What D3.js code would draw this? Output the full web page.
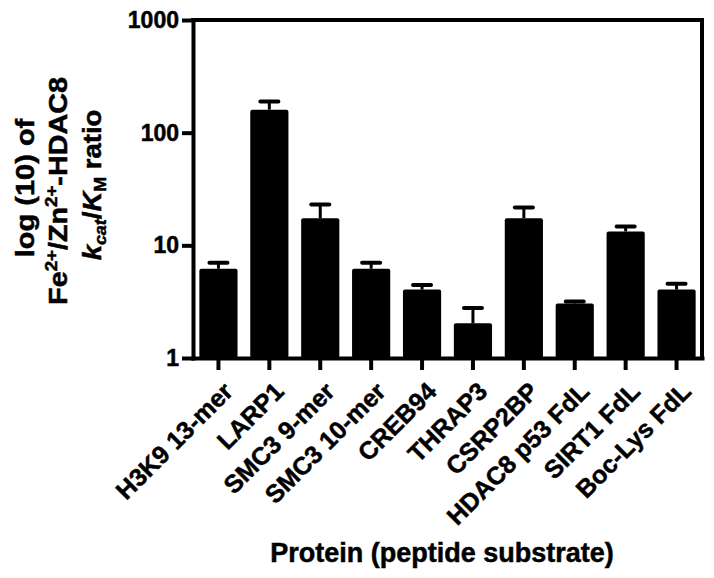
<!DOCTYPE html>
<html>
<head>
<meta charset="utf-8">
<script src="https://cdn.jsdelivr.net/npm/d3@7"></script>
<style>
  body { margin: 0; background: #fff; }
  text { font-family: "Liberation Sans", Arial, sans-serif; font-weight: bold;
         stroke: #000; stroke-width: 0.5px; }
</style>
</head>
<body>
<div id="main"></div>
<script>
const proteins = ["H3K9 13-mer", "LARP1", "SMC3 9-mer", "SMC3 10-mer", "CREB94",
  "THRAP3", "CSRP2BP", "HDAC8 p53 FdL", "SIRT1 FdL", "Boc-Lys FdL"];
// Fe/Zn kcat/KM ratio and upper error
const ratios = [6.2, 160, 17.4, 6.2, 4.05, 2.03, 17.4, 3.05, 13.3, 4.05];
const errors = [0.8, 29, 5.6, 0.8, 0.4, 0.75, 4.3, 0.12, 1.4, 0.5];
const yTicks = [1, 10, 100, 1000];

const width = 714, height = 578;
const plotLeft = 193, plotRight = 702, plotTop = 20, plotBottom = 358;

const svg = d3.select("#main").append("svg")
  .attr("width", width)
  .attr("height", height);

const x = d3.scaleBand()
  .domain(proteins)
  .range([plotLeft, plotRight])
  .paddingInner(0.25)
  .paddingOuter(0.125);

const y = d3.scaleLog()
  .domain([1, 1000])
  .range([plotBottom, plotTop]);

// bars
svg.append("g").selectAll("rect")
  .data(proteins)
  .join("rect")
  .attr("x", d => x(d))
  .attr("width", x.bandwidth())
  .attr("y", (d, i) => y(ratios[i]))
  .attr("height", (d, i) => plotBottom - y(ratios[i]))
  .attr("rx", 2)
  .attr("fill", "#000");

// error bars (upper only)
const err = svg.append("g").attr("stroke", "#000");
err.selectAll("line.stem")
  .data(proteins)
  .join("line")
  .attr("class", "stem")
  .attr("x1", d => x(d) + x.bandwidth() / 2)
  .attr("x2", d => x(d) + x.bandwidth() / 2)
  .attr("y1", (d, i) => y(ratios[i]))
  .attr("y2", (d, i) => y(ratios[i] + errors[i]))
  .attr("stroke-width", 3);
err.selectAll("line.cap")
  .data(proteins)
  .join("line")
  .attr("class", "cap")
  .attr("x1", d => x(d) + x.bandwidth() / 2 - 9)
  .attr("x2", d => x(d) + x.bandwidth() / 2 + 9)
  .attr("y1", (d, i) => y(ratios[i] + errors[i]))
  .attr("y2", (d, i) => y(ratios[i] + errors[i]))
  .attr("stroke-width", 4)
  .attr("stroke-linecap", "round");

// frame top + right
svg.append("path")
  .attr("d", `M${plotLeft},${plotTop}H${plotRight}V${plotBottom}`)
  .attr("fill", "none")
  .attr("stroke", "#000")
  .attr("stroke-width", 4)
  .attr("stroke-linecap", "square");

// y axis
const yAxis = svg.append("g")
  .attr("transform", `translate(${plotLeft},0)`)
  .call(d3.axisLeft(y).tickValues(yTicks).tickFormat(d3.format("d"))
    .tickSize(11).tickSizeOuter(0).tickPadding(3));
yAxis.selectAll("path, line").attr("stroke-width", 4);
yAxis.select(".domain").attr("stroke-linecap", "square");
yAxis.selectAll("text").attr("font-size", 23).attr("fill", "#000");

// x axis
const xAxis = svg.append("g")
  .attr("transform", `translate(0,${plotBottom})`)
  .call(d3.axisBottom(x).tickSize(12).tickSizeOuter(0));
xAxis.selectAll("path, line").attr("stroke-width", 4);
xAxis.select(".domain").attr("stroke-linecap", "square");
xAxis.selectAll("text")
  .attr("font-size", 25)
  .attr("fill", "#000")
  .attr("text-anchor", "end")
  .attr("x", 0).attr("y", 0).attr("dy", 0)
  .attr("transform", "translate(16,35) rotate(-45)");

// x title
svg.append("text")
  .attr("transform", "translate(442,562)")
  .attr("text-anchor", "middle")
  .attr("font-size", 27)
  .text("Protein (peptide substrate)");

// y title, three lines
const fs = 25, sub = 0.65;
const yl = svg.append("g").attr("font-size", fs);

yl.append("text")
  .attr("transform", "translate(34,188) rotate(-90) scale(1.16,1)")
  .attr("text-anchor", "middle")
  .text("log (10) of");

const l2 = yl.append("text")
  .attr("transform", "translate(67,191) rotate(-90) scale(1.15,1)")
  .attr("text-anchor", "middle");
l2.append("tspan").text("Fe");
l2.append("tspan").attr("font-size", fs * sub).attr("dy", -10).text("2+");
l2.append("tspan").attr("dy", 10).text("/Zn");
l2.append("tspan").attr("font-size", fs * sub).attr("dy", -10).text("2+");
l2.append("tspan").attr("dy", 10).text("-HDAC8");

const l3 = yl.append("text")
  .attr("transform", "translate(101,185) rotate(-90) scale(1.1,1)")
  .attr("text-anchor", "middle");
l3.append("tspan").attr("font-style", "italic").text("k");
l3.append("tspan").attr("font-style", "italic").attr("font-size", fs * sub).attr("dy", 5).text("cat");
l3.append("tspan").attr("dy", -5).text("/");
l3.append("tspan").attr("font-style", "italic").text("K");
l3.append("tspan").attr("font-size", fs * sub).attr("dy", 5).text("M");
l3.append("tspan").attr("dy", -5).text(" ratio");
</script>
</body>
</html>
